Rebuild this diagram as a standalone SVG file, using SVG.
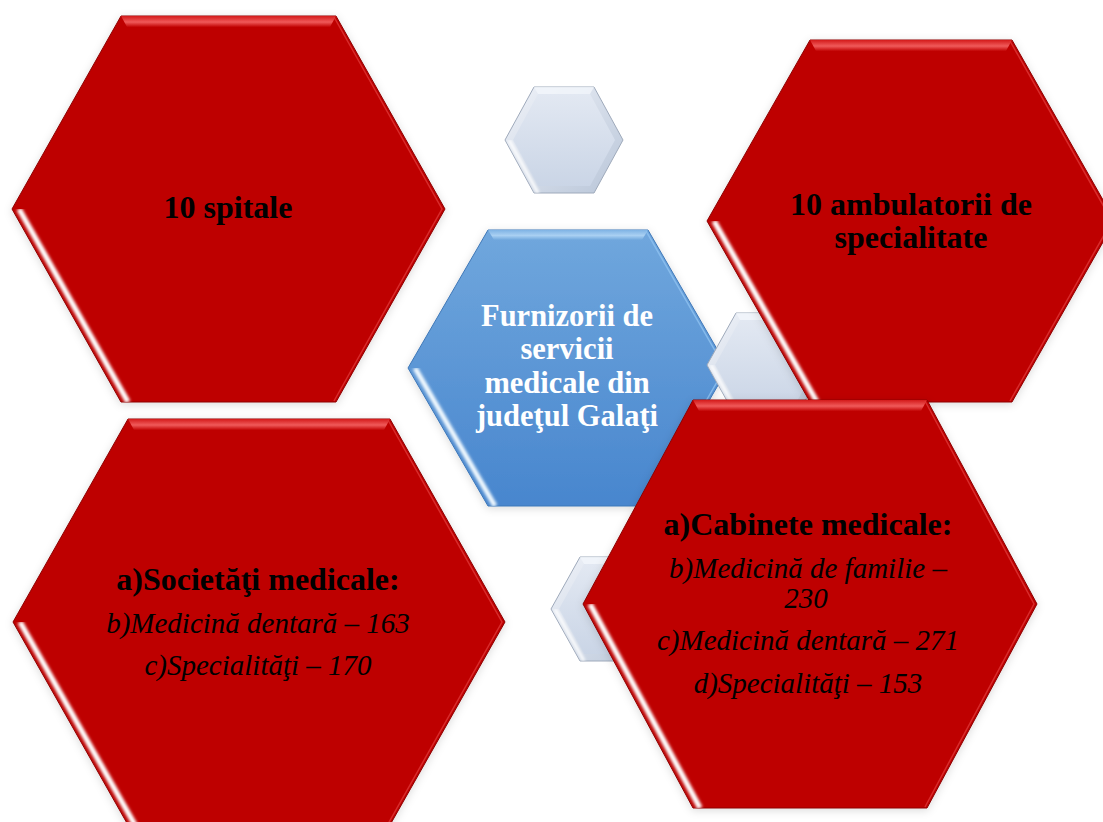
<svg xmlns="http://www.w3.org/2000/svg" width="1103" height="822" viewBox="0 0 1103 822">
<style>
.red{fill:#BE0000;stroke:#8E0000;stroke-width:1}
.blue{fill:url(#gBlue);stroke:#3F78B8;stroke-width:1}
.pale{fill:url(#gPaleOut);stroke:#9FAABB;stroke-width:1}
.paleIn{fill:url(#gPaleIn)}
.topR{fill:url(#gTopRed)}
.topB{fill:url(#gTopBlue)}
.topP{fill:#F3F6FB;opacity:.8}
.hl{stroke:#FFFFFF;stroke-width:5.5;fill:none;filter:url(#soft)}
.hlB{stroke:#F2FAFF;stroke-width:5;fill:none;filter:url(#soft)}
.hlP{stroke:#FFFFFF;stroke-width:3;fill:none;filter:url(#soft)}
.rim{fill:none;stroke:#E03A3A;stroke-width:1.5;opacity:.75}
.rimB{fill:none;stroke:#8EC2F0;stroke-width:1.5;opacity:.8}
.t{font-family:"Liberation Serif","Times New Roman",serif;text-anchor:middle;fill:#000}
.b{font-weight:bold;font-size:32px}
.i{font-style:italic;font-size:29px}
.w{fill:#FFFFFF}
.c{font-size:30.5px}
</style>
<defs>
<linearGradient id="gBlue" x1="0" y1="0" x2="0" y2="1">
<stop offset="0" stop-color="#70A7DD"/>
<stop offset="1" stop-color="#4886CE"/>
</linearGradient>
<linearGradient id="gTopRed" x1="0" y1="0" x2="0" y2="1">
<stop offset="0" stop-color="#D41A1A"/>
<stop offset="0.55" stop-color="#F05A5A"/>
<stop offset="1" stop-color="#C20404"/>
</linearGradient>
<linearGradient id="gTopBlue" x1="0" y1="0" x2="0" y2="1">
<stop offset="0" stop-color="#7FB3E4"/>
<stop offset="0.55" stop-color="#A9D0F2"/>
<stop offset="1" stop-color="#6FA7DD"/>
</linearGradient>
<linearGradient id="gPaleOut" x1="0" y1="0" x2="1" y2="1">
<stop offset="0" stop-color="#F0F3F9"/>
<stop offset="1" stop-color="#B8C5D8"/>
</linearGradient>
<linearGradient id="gPaleIn" x1="0" y1="0" x2="0" y2="1">
<stop offset="0" stop-color="#E2E8F2"/>
<stop offset="1" stop-color="#CAD5E6"/>
</linearGradient>
<filter id="soft" x="-20%" y="-20%" width="140%" height="140%">
<feGaussianBlur stdDeviation="1.4"/>
</filter>
<filter id="shadow" x="-10%" y="-10%" width="120%" height="120%">
<feDropShadow dx="0" dy="2" stdDeviation="4" flood-color="#000000" flood-opacity="0.14"/>
</filter>
<clipPath id="cH1"><polygon points="12,209 445,209 336,402 121,402"/></clipPath>
<clipPath id="cH2"><polygon points="707,221 1115,221 1012,402 810,402"/></clipPath>
<clipPath id="cH3"><polygon points="13,622 505,622 390,825 128,825"/></clipPath>
<clipPath id="cH4"><polygon points="583,604 1037,604 927,808 693,808"/></clipPath>
<clipPath id="cC"><polygon points="408,368 728,368 648,506 488,506"/></clipPath>
<clipPath id="cS1"><polygon points="505,140 623,140 594,193 534,193"/></clipPath>
<clipPath id="cS2"><polygon points="707,365 825,365 796,417 736,417"/></clipPath>
<clipPath id="cS3"><polygon points="551,609 669,609 640,661 580,661"/></clipPath>
</defs>
<rect x="0" y="0" width="1103" height="822" fill="#FFFFFF"/>

<g id="deco-small-top">
<polygon class="pale" points="505,140 534,87 594,87 623,140 594,193 534,193"/>
<polygon class="paleIn" points="513,140 538,94 590,94 615,140 590,186 538,186"/>
<polygon class="topP" points="534,87 594,87 590,94 538,94"/>
<g clip-path="url(#cS1)"><line class="hlP" x1="509" y1="140" x2="538" y2="193"/></g>
</g>

<g id="node-spitale">
<polygon class="red" filter="url(#shadow)" points="12,209 121,16 336,16 445,209 336,402 121,402"/>
<polygon class="topR" points="121,16 336,16 330,27 127,27"/>
<polyline class="rim" points="334,17 442,209 334,401"/>
<g clip-path="url(#cH1)"><line class="hl" x1="19" y1="209" x2="128" y2="402"/></g>
<text class="t b" x="228" y="218">10 spitale</text>
</g>

<g id="node-societati">
<polygon class="red" filter="url(#shadow)" points="13,622 128,419 390,419 505,622 390,825 128,825"/>
<polygon class="topR" points="128,419 390,419 384,430 134,430"/>
<polyline class="rim" points="388,420 502,622 388,824"/>
<g clip-path="url(#cH3)"><line class="hl" x1="20" y1="622" x2="135" y2="825"/></g>
<text class="t b" x="258" y="590">a)Societăţi medicale:</text>
<text class="t i" x="258" y="633">b)Medicină dentară – 163</text>
<text class="t i" x="258" y="675">c)Specialităţi – 170</text>
</g>

<g id="node-center">
<polygon class="blue" filter="url(#shadow)" points="408,368 488,230 648,230 728,368 648,506 488,506"/>
<polygon class="topB" points="488,230 648,230 642,240 494,240"/>
<polyline class="rimB" points="646,231 725,368 646,505"/>
<g clip-path="url(#cC)"><line class="hlB" x1="415" y1="368" x2="495" y2="506"/></g>
<text class="t b w c" x="567" y="326">Furnizorii de</text>
<text class="t b w c" x="567" y="359">servicii</text>
<text class="t b w c" x="567" y="393">medicale din</text>
<text class="t b w c" x="567" y="426">judeţul Galaţi</text>
</g>

<g id="deco-small-right">
<polygon class="pale" points="707,365 736,313 796,313 825,365 796,417 736,417"/>
<polygon class="paleIn" points="715,365 740,320 792,320 817,365 792,410 740,410"/>
<polygon class="topP" points="736,313 796,313 792,320 740,320"/>
<g clip-path="url(#cS2)"><line class="hlP" x1="711" y1="365" x2="740" y2="417"/></g>
</g>

<g id="deco-small-bottom">
<polygon class="pale" points="551,609 580,557 640,557 669,609 640,661 580,661"/>
<polygon class="paleIn" points="559,609 584,564 636,564 661,609 636,654 584,654"/>
<polygon class="topP" points="580,557 640,557 636,564 584,564"/>
<g clip-path="url(#cS3)"><line class="hlP" x1="555" y1="609" x2="584" y2="661"/></g>
</g>

<g id="node-ambulatorii">
<polygon class="red" filter="url(#shadow)" points="707,221 810,40 1012,40 1115,221 1012,402 810,402"/>
<polygon class="topR" points="810,40 1012,40 1006,51 816,51"/>
<polyline class="rim" points="1010,41 1112,221 1010,401"/>
<g clip-path="url(#cH2)"><line class="hl" x1="714" y1="221" x2="817" y2="402"/></g>
<text class="t b" x="911" y="215">10 ambulatorii de</text>
<text class="t b" x="911" y="248">specialitate</text>
</g>

<g id="node-cabinete">
<polygon class="red" filter="url(#shadow)" points="583,604 693,400 927,400 1037,604 927,808 693,808"/>
<polygon class="topR" points="693,400 927,400 921,411 699,411"/>
<polyline class="rim" points="925,401 1034,604 925,807"/>
<g clip-path="url(#cH4)"><line class="hl" x1="590" y1="604" x2="700" y2="808"/></g>
<text class="t b" x="808" y="535">a)Cabinete medicale:</text>
<text class="t i" x="808" y="578">b)Medicină de familie –</text>
<text class="t i" x="806" y="608">230</text>
<text class="t i" x="808" y="650">c)Medicină dentară – 271</text>
<text class="t i" x="808" y="693">d)Specialităţi – 153</text>
</g>

<g id="connectors"></g>
</svg>
